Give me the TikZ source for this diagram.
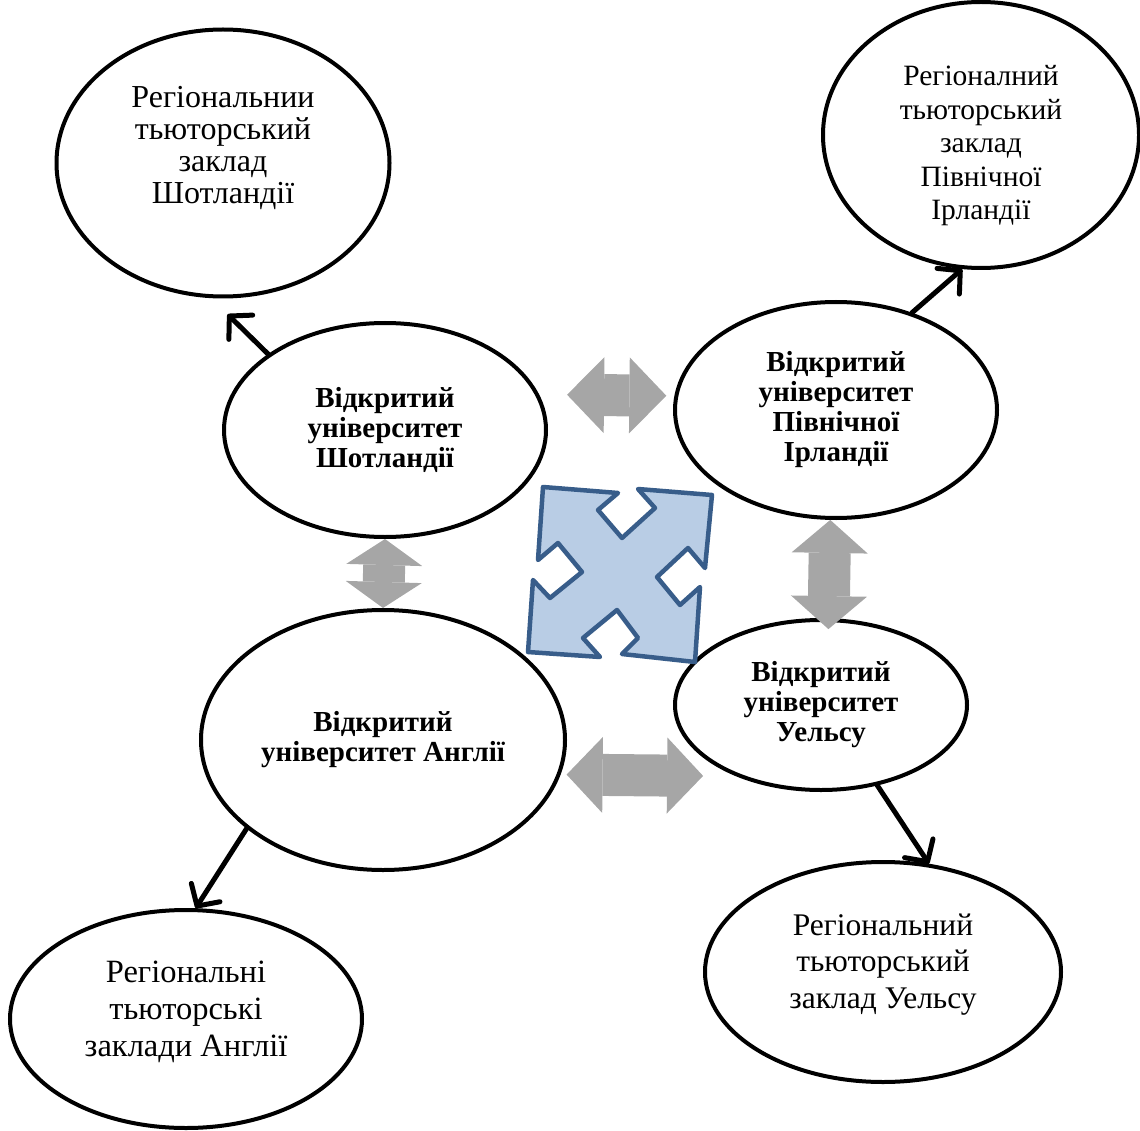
\documentclass[tikz,border=0pt]{standalone}
\usepackage{fontspec}
\setmainfont{Liberation Serif}
\usepackage{xcolor}
\usetikzlibrary{arrows.meta,shapes.geometric}

\definecolor{arrgray}{HTML}{A6A6A6}
\definecolor{crossfill}{HTML}{B9CDE5}
\definecolor{crossline}{HTML}{385D8A}

\begin{document}
\begin{tikzpicture}[x=1pt,y=-1pt,
  uni/.style={ellipse, draw, line width=4pt, inner sep=0pt, align=center,
              font=\fontsize{29}{30}\selectfont\bfseries},
  reg/.style={ellipse, draw, line width=4pt, inner sep=0pt, align=center,
              font=\fontsize{32}{33}\selectfont},
  link/.style={line width=5pt, line cap=round,
               -{Straight Barb[round, length=16pt, width=34pt]}},
  biarrow/.style={draw=arrgray, line width=42pt,
                  {Triangle[length=#1, width=76pt, line width=0pt]}-{Triangle[length=#1, width=76pt, line width=0pt]}}]
\useasboundingbox (0,0) rectangle (1140,1131);

\node[reg, minimum width=333pt, minimum height=267pt, text depth=36pt,
      font=\fontsize{32}{32}\selectfont] (rsco) at (223,163)
     {Регіональнии\\тьюторський\\заклад\\Шотландії};
\node[reg, minimum width=316pt, minimum height=266pt, text height=176pt,
      font=\fontsize{29.5}{33.5}\selectfont] (rnir) at (981,135)
     {Регіоналний\\тьюторський\\заклад\\Північної\\Ірландії};
\node[uni, minimum width=322pt, minimum height=214pt] (osco) at (385,430)
     {Відкритий\\університет\\Шотландії};
\node[uni, minimum width=322pt, minimum height=216pt] (onir) at (836,410)
     {Відкритий\\університет\\Північної\\Ірландії};
\node[uni, minimum width=364pt, minimum height=260pt] (oeng) at (383,740)
     {Відкритий\\університет Англії};
\node[uni, minimum width=292pt, minimum height=170pt] (owal) at (821,705)
     {Відкритий\\університет\\Уельсу};
\node[reg, minimum width=352pt, minimum height=218pt, text depth=20pt,
      font=\fontsize{32.5}{37}\selectfont] (reng) at (186,1019)
     {Регіональні\\тьюторські\\заклади Англії};
\node[reg, minimum width=356pt, minimum height=220pt, text depth=22pt,
      font=\fontsize{31.5}{36.5}\selectfont] (rwal) at (883,972)
     {Регіональний\\тьюторський\\заклад Уельсу};

% four-way cross in the middle
\draw[line width=4.5pt, line join=round, draw=crossline, fill=crossfill]
  (543,487) -- (618,493) -- (598,510) -- (622,538) -- (655,508) -- (638,489)
  -- (712,495) -- (705,568) -- (688,548) -- (657,577) -- (680,605) -- (700,587)
  -- (695,662) -- (622,654) -- (638,638) -- (617,610) -- (583,638) -- (600,657)
  -- (528,652) -- (533,580) -- (550,598) -- (582,572) -- (558,543) -- (538,560)
  -- cycle;

\draw[biarrow=37pt, shorten <=28pt, shorten >=8pt] (osco.13) -- (onir.175);
\draw[biarrow=26pt] (osco.270) -- (oeng.90);
\draw[biarrow=33pt, shorten >=-11pt] (onir.267) -- (owal.85);
\draw[biarrow=36pt, shorten <=6pt, shorten >=33pt] (oeng.-11) -- (owal.220);

\draw[link, shorten >=23pt] (osco.147) -- (rsco.265);
\draw[link] (onir.52) -- (rnir.262);
\draw[link] (oeng.213) -- (reng.85);
\draw[link] (owal.-55) -- (rwal.67);
\end{tikzpicture}
\end{document}
